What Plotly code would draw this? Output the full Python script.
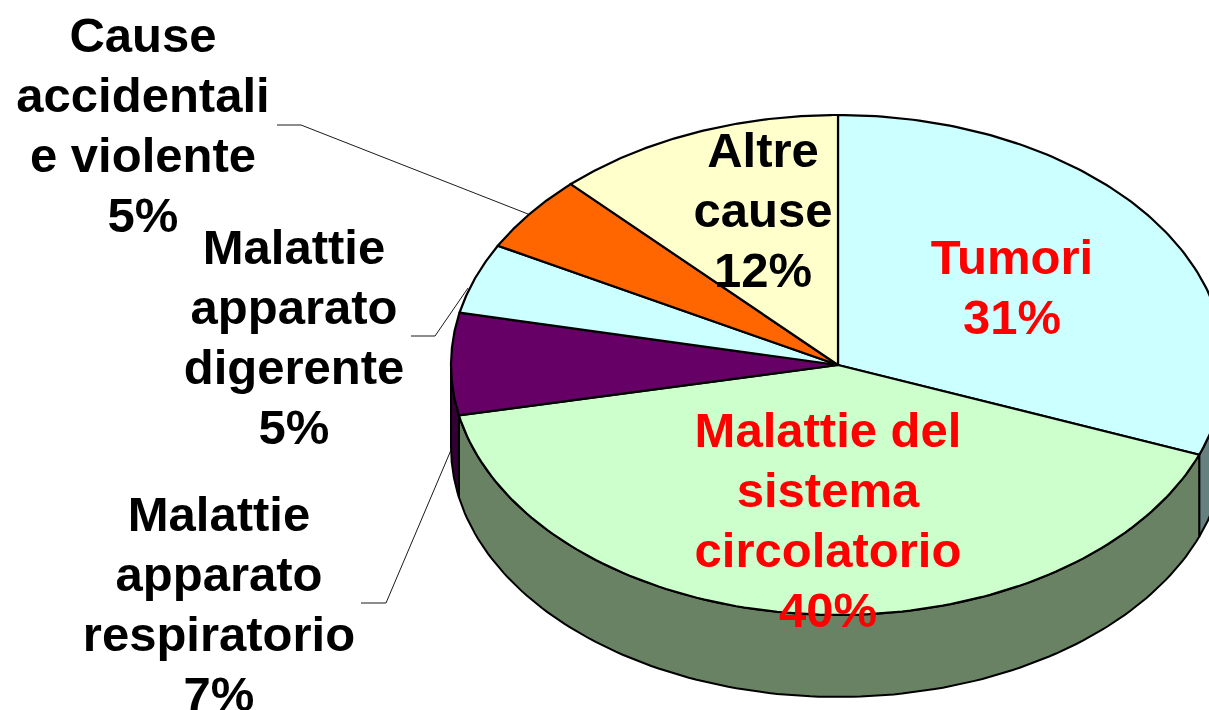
import numpy as np
import plotly.graph_objects as go

categories = ["Tumori", "Malattie del<br>sistema<br>circolatorio", "Malattie<br>apparato<br>respiratorio",
              "Malattie<br>apparato<br>digerente", "Cause<br>accidentali<br>e violente", "Altre<br>cause"]
values = [30.51, 40.49, 6.51, 4.51, 4.9, 12.0]
top_colors = ["#CCFFFF", "#CCFFCC", "#660066", "#CCFFFF", "#FF6600", "#FFFFCC"]
side_colors = ["#668080", "#698264", "#330033", "#668080", "#803300", "#808066"]
text_colors = ["#FF0000", "#FF0000", "#000000", "#000000", "#000000", "#000000"]
label_x = [1012, 828, 219, 294, 143, 763]
label_first_y = [261.5, 434.5, 518.5, 251.5, 39.5, 154.5]
LINE_H = 60
leaders = [([277, 301, 528], [125, 125, 214]),
           ([411, 435, 468], [336, 336, 288]),
           ([361, 386, 451], [603, 603, 450])]

CX, CY, RX, RY, DEPTH = 838, 365, 387, 250, 82
total = sum(values)
edges = np.cumsum([0] + values) / total * 2 * np.pi


def arc(a, b):
    t = np.linspace(a, b, 120)
    return CX + RX * np.sin(t), CY - RY * np.cos(t)


fig = go.Figure()
# leader lines
for lx, ly in leaders:
    fig.add_trace(go.Scatter(x=lx, y=ly, mode="lines", line=dict(color="#000000", width=0.9),
                             hoverinfo="skip", showlegend=False))
# side walls (only the front half of the ellipse is visible)
for i in range(len(values)):
    a, b = max(edges[i], np.pi / 2), min(edges[i + 1], 3 * np.pi / 2)
    if a >= b:
        continue
    x, y = arc(a, b)
    fig.add_trace(go.Scatter(
        x=np.r_[x, x[::-1], x[0]], y=np.r_[y, y[::-1] + DEPTH, y[0]],
        mode="lines", fill="toself", fillcolor=side_colors[i],
        line=dict(color="#000000", width=2), hoverinfo="skip", showlegend=False))
# top faces
for i in range(len(values)):
    x, y = arc(edges[i], edges[i + 1])
    fig.add_trace(go.Scatter(
        x=np.r_[CX, x, CX], y=np.r_[CY, y, CY],
        mode="lines", fill="toself", fillcolor=top_colors[i],
        line=dict(color="#000000", width=2.2), name=categories[i].replace("<br>", " "),
        showlegend=False))
# labels, one text per line so that the line pitch is exact
tx, ty, tt, tc = [], [], [], []
for c, v, x0, y0, col in zip(categories, values, label_x, label_first_y, text_colors):
    for k, line in enumerate(c.split("<br>") + [f"{round(v)}%"]):
        tx.append(x0)
        ty.append(y0 + k * LINE_H)
        tt.append(line)
        tc.append(col)
fig.add_trace(go.Scatter(
    x=tx, y=ty, mode="text", text=tt,
    textposition="middle center", cliponaxis=False,
    textfont=dict(family="Liberation Sans, Arial, sans-serif", size=49, color=tc, weight="bold"),
    hoverinfo="skip", showlegend=False))

fig.update_layout(
    width=1209, height=710, margin=dict(l=0, r=0, t=0, b=0),
    paper_bgcolor="#FFFFFF", plot_bgcolor="#FFFFFF",
    xaxis=dict(range=[0, 1209], visible=False, fixedrange=True),
    yaxis=dict(range=[710, 0], visible=False, fixedrange=True))
fig.write_html("out.html", config={"displayModeBar": False},
               post_script="document.body.style.margin='0';document.body.style.overflow='hidden';")
